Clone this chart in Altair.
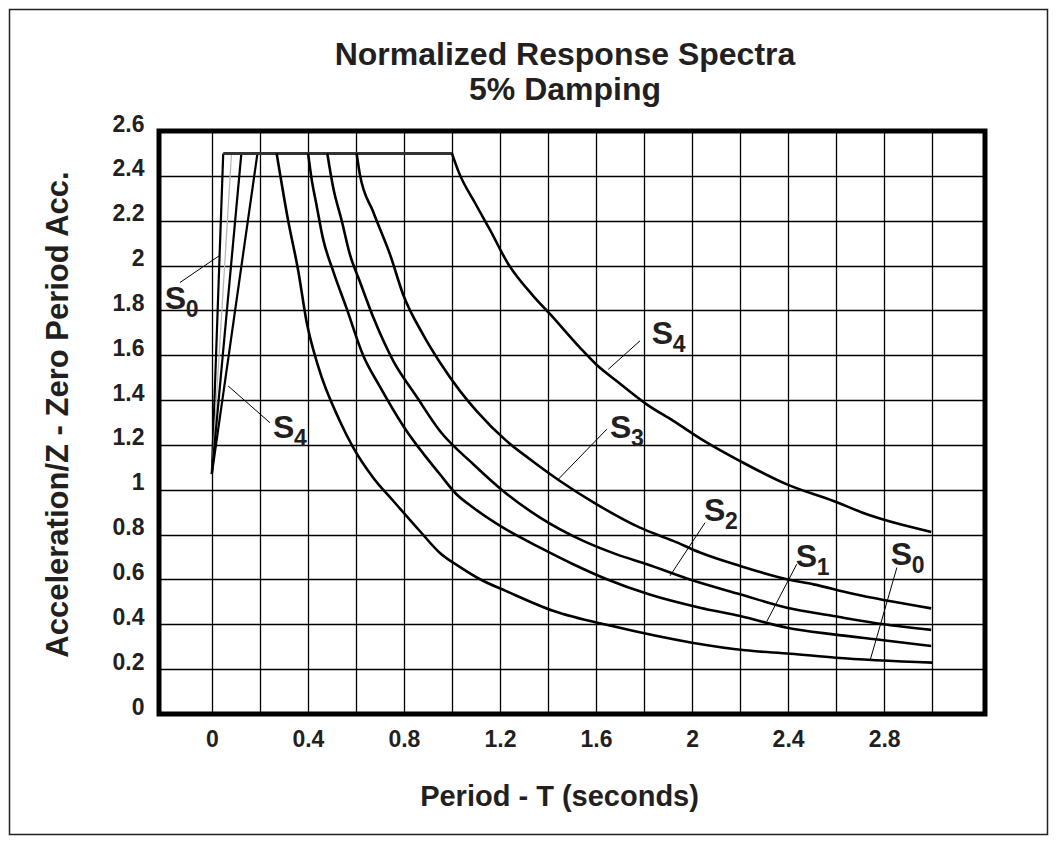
import altair as alt
import pandas as pd

FONT = "Liberation Sans"
INK = "#231f20"

# ---------------- data ----------------
TITLE_LINES = ["Normalized Response Spectra", "5% Damping"]

X_GRID = [0, 0.2, 0.4, 0.6, 0.8, 1.0, 1.2, 1.4, 1.6, 1.8, 2.0, 2.2, 2.4, 2.6, 2.8, 3.0]
X_LABELS = ["0", "0.4", "0.8", "1.2", "1.6", "2", "2.4", "2.8"]
Y_TICKS = [0, 0.2, 0.4, 0.6, 0.8, 1.0, 1.2, 1.4, 1.6, 1.8, 2.0, 2.2, 2.4, 2.6]

PLATEAU_A = 2.5
PLATEAU_T = [0.0475, 1.0]

RAMP_START_A = 1.07
RAMP_END_T = [0.0475, 0.082, 0.123, 0.19]
RAMP_KIND = ["main", "faint", "main", "main"]

S0_T = [0.27, 0.318, 0.36, 0.394, 0.443, 0.533, 0.589, 0.672, 0.756, 0.867, 0.95, 1.034, 1.117, 1.224, 1.424, 1.667, 2.0, 2.221, 2.41, 2.598, 3.0]
S0_A = [2.5, 2.2, 1.976, 1.753, 1.55, 1.307, 1.188, 1.054, 0.95, 0.815, 0.718, 0.655, 0.601, 0.549, 0.459, 0.392, 0.318, 0.284, 0.269, 0.251, 0.229]

S1_T = [0.401, 0.415, 0.436, 0.463, 0.505, 0.561, 0.63, 0.70, 0.80, 0.95, 1.019, 1.089, 1.213, 1.367, 1.505, 1.645, 1.82, 2.033, 2.2, 2.395, 2.589, 2.797, 2.996]
S1_A = [2.5, 2.39, 2.27, 2.12, 1.976, 1.81, 1.60, 1.46, 1.28, 1.069, 0.98, 0.92, 0.831, 0.742, 0.668, 0.601, 0.534, 0.474, 0.437, 0.385, 0.355, 0.329, 0.303]

S2_T = [0.481, 0.505, 0.541, 0.575, 0.616, 0.672, 0.756, 0.85, 0.95, 1.089, 1.213, 1.367, 1.547, 1.686, 1.812, 1.991, 2.2, 2.395, 2.589, 2.797, 2.996]
S2_A = [2.5, 2.35, 2.2, 2.05, 1.93, 1.77, 1.574, 1.42, 1.262, 1.114, 0.995, 0.876, 0.772, 0.712, 0.668, 0.6, 0.534, 0.474, 0.437, 0.4, 0.375]

S3_T = [0.603, 0.616, 0.672, 0.742, 0.797, 0.881, 0.955, 1.034, 1.103, 1.227, 1.325, 1.45, 1.603, 1.783, 1.922, 2.033, 2.2, 2.395, 2.506, 2.665, 2.996]
S3_A = [2.5, 2.41, 2.24, 2.05, 1.87, 1.69, 1.56, 1.44, 1.351, 1.218, 1.136, 1.039, 0.935, 0.831, 0.772, 0.72, 0.66, 0.601, 0.578, 0.537, 0.471]

S4_T = [1.0, 1.027, 1.101, 1.158, 1.235, 1.339, 1.409, 1.533, 1.6, 1.686, 1.811, 1.922, 2.05, 2.2, 2.395, 2.589, 2.728, 2.867, 2.996]
S4_A = [2.5, 2.42, 2.27, 2.16, 2.006, 1.864, 1.783, 1.634, 1.56, 1.485, 1.381, 1.307, 1.218, 1.128, 1.024, 0.95, 0.891, 0.846, 0.812]

# annotation labels (anchor = baseline-left of the "S", in data units)
LABEL_SUB = ["0", "4", "4", "3", "2", "1", "0"]
LABEL_T = [-0.196, 0.255, 1.832, 1.658, 2.05, 2.432, 2.828]
LABEL_A = [1.806, 1.232, 1.649, 1.23, 0.861, 0.657, 0.665]
# leader lines
LEAD_T1 = [-0.133, 0.068, 1.651, 1.443, 1.908, 2.311, 2.742]
LEAD_A1 = [1.924, 1.463, 1.537, 1.047, 0.616, 0.412, 0.241]
LEAD_T2 = [0.030, 0.242, 1.783, 1.645, 2.054, 2.436, 2.853]
LEAD_A2 = [2.043, 1.299, 1.664, 1.27, 0.853, 0.668, 0.653]

# ---------------- tables ----------------
rows = []
for name, ts, As in [("S0", S0_T, S0_A), ("S1", S1_T, S1_A), ("S2", S2_T, S2_A),
                      ("S3", S3_T, S3_A), ("S4", S4_T, S4_A)]:
    for i, (t, a) in enumerate(zip(ts, As)):
        rows.append({"series": name, "T": t, "A": a, "i": i})
curves = pd.DataFrame(rows)

ramp_rows = []
for k, (t, kind) in enumerate(zip(RAMP_END_T, RAMP_KIND)):
    ramp_rows.append({"ramp": k, "kind": kind, "T": 0.0, "A": RAMP_START_A, "i": 0})
    ramp_rows.append({"ramp": k, "kind": kind, "T": t, "A": PLATEAU_A, "i": 1})
ramps = pd.DataFrame(ramp_rows)

plateau = pd.DataFrame({"T": PLATEAU_T, "A": [PLATEAU_A] * len(PLATEAU_T)})

labels = pd.DataFrame({"T": LABEL_T, "A": LABEL_A, "sym": ["S"] * len(LABEL_T), "sub": LABEL_SUB})
leaders = pd.DataFrame({"T": LEAD_T1, "A": LEAD_A1, "T2": LEAD_T2, "A2": LEAD_A2})

# ---------------- encodings ----------------
x_axis = alt.Axis(
    values=X_GRID,
    format="~g",
    labelExpr="indexof(" + str(X_LABELS).replace("'", '"') + ", datum.label) >= 0 ? datum.label : ''",
    title="Period - T (seconds)",
    titleX=400,
    titleY=91,
    titleBaseline="alphabetic",
    titleFontSize=29,
    labelPadding=32,
    labelBaseline="alphabetic",
    labelAngle=0,
)
y_axis = alt.Axis(
    values=Y_TICKS,
    format="~g",
    title="Acceleration/Z - Zero Period Acc.",
    titleX=-92,
    titleY=283,
    titleAngle=-90,
    titleBaseline="alphabetic",
    titleFontSize=31,
    labelPadding=15,
    labelBaseline="alphabetic",
)
X = alt.X("T:Q", scale=alt.Scale(domain=[-0.22, 3.22], nice=False, zero=False), axis=x_axis)
Y = alt.Y("A:Q", scale=alt.Scale(domain=[0, 2.6], nice=False, zero=False), axis=y_axis)

border = alt.Chart(pd.DataFrame({"a": [0]})).mark_rect(
    fill="white", fillOpacity=0, stroke="#222", strokeWidth=1.5
).encode(x=alt.value(-149.5), x2=alt.value(888.5), y=alt.value(-121.5), y2=alt.value(703.5))

title1 = alt.Chart(pd.DataFrame({"t": [TITLE_LINES[0]]})).mark_text(
    align="center", baseline="alphabetic", font=FONT, fontWeight="bold", fontSize=32, color=INK
).encode(text="t:N", x=alt.value(406), y=alt.value(-66))

title2 = alt.Chart(pd.DataFrame({"t": [TITLE_LINES[1]]})).mark_text(
    align="center", baseline="alphabetic", font=FONT, fontWeight="bold", fontSize=32, color=INK
).encode(text="t:N", x=alt.value(406), y=alt.value(-31))

curve_layer = alt.Chart(curves).mark_line(color="black", strokeWidth=2.6, interpolate="monotone").encode(
    x=X, y=Y, detail="series:N", order="i:Q"
)

ramp_layer = alt.Chart(ramps).mark_line().encode(
    x=X, y=Y, detail="ramp:N", order="i:Q",
    color=alt.Color("kind:N", scale=alt.Scale(domain=["main", "faint"], range=["black", "#b5b5b5"]), legend=None),
    strokeWidth=alt.StrokeWidth("kind:N", scale=alt.Scale(domain=["main", "faint"], range=[2.2, 1.2]), legend=None),
)

plateau_layer = alt.Chart(plateau).mark_line(color="#333333", strokeWidth=3).encode(x=X, y=Y)

leader_layer = alt.Chart(leaders).mark_rule(color="black", strokeWidth=1).encode(
    x=X, y=Y, x2="T2:Q", y2="A2:Q"
)

s_layer = alt.Chart(labels).mark_text(
    align="left", baseline="alphabetic", font=FONT, fontWeight="bold", fontSize=32, color=INK
).encode(x=X, y=Y, text="sym:N")

sub_layer = alt.Chart(labels).mark_text(
    align="left", baseline="alphabetic", font=FONT, fontWeight="bold", fontSize=23, color=INK, dx=21, dy=8
).encode(x=X, y=Y, text="sub:N")

chart = alt.layer(
    border, title1, title2, ramp_layer, plateau_layer, curve_layer, leader_layer, s_layer, sub_layer
).properties(
    width=826,
    height=583,
    autosize=alt.AutoSizeParams(type="none"),
    padding={"left": 151, "top": 123, "right": 64, "bottom": 122},
).configure_view(
    stroke="black", strokeWidth=5
).configure_axis(
    grid=True, gridColor="black", gridWidth=1.3, gridOpacity=1,
    domain=False, ticks=False, tickSize=0,
    labelFont=FONT, labelFontWeight="bold", labelFontSize=23, labelColor=INK,
    titleFont=FONT, titleFontWeight="bold", titleColor=INK,
    labelOverlap=False,
)

chart.save("out.html", embed_options={"renderer": "svg", "actions": False})
